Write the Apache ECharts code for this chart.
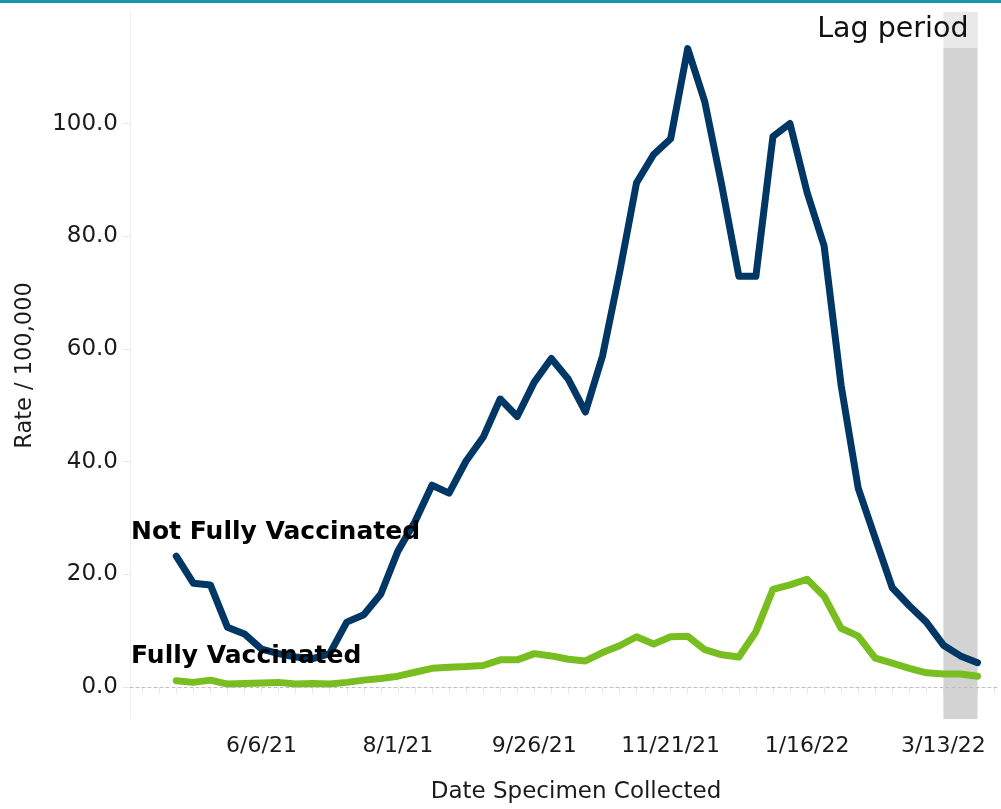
<!DOCTYPE html>
<html>
<head>
<meta charset="utf-8">
<script src="https://cdn.jsdelivr.net/npm/echarts@6/dist/echarts.min.js"></script>
<style>
  html, body { margin: 0; padding: 0; background: #ffffff; }
  #chart { width: 1001px; height: 809px; }
</style>
</head>
<body>
<div id="chart"></div>
<script>
// Weekly specimen collection dates (week start)
var weeks = [
  '2021-05-02', '2021-05-09', '2021-05-16', '2021-05-23', '2021-05-30',
  '2021-06-06', '2021-06-13', '2021-06-20', '2021-06-27', '2021-07-04',
  '2021-07-11', '2021-07-18', '2021-07-25', '2021-08-01', '2021-08-08',
  '2021-08-15', '2021-08-22', '2021-08-29', '2021-09-05', '2021-09-12',
  '2021-09-19', '2021-09-26', '2021-10-03', '2021-10-10', '2021-10-17',
  '2021-10-24', '2021-10-31', '2021-11-07', '2021-11-14', '2021-11-21',
  '2021-11-28', '2021-12-05', '2021-12-12', '2021-12-19', '2021-12-26',
  '2022-01-02', '2022-01-09', '2022-01-16', '2022-01-23', '2022-01-30',
  '2022-02-06', '2022-02-13', '2022-02-20', '2022-02-27', '2022-03-06',
  '2022-03-13', '2022-03-20', '2022-03-27'
];

// Case rate per 100,000 — not fully vaccinated
var notFullyVaccinated = [
  23.2, 18.4, 18.1, 10.6, 9.4, 6.7, 5.9, 5.3, 5.0, 5.9,
  11.5, 12.8, 16.5, 24.1, 29.3, 35.8, 34.4, 40.1, 44.3, 51.1,
  48.0, 54.1, 58.3, 54.6, 48.8, 58.7, 73.5, 89.5, 94.5, 97.3,
  113.3, 103.9, 89.0, 72.9, 72.9, 97.7, 100.0, 87.8, 78.3, 53.5,
  35.3, 26.4, 17.6, 14.4, 11.5, 7.4, 5.5, 4.3
];

// Case rate per 100,000 — fully vaccinated
var fullyVaccinated = [
  1.1, 0.8, 1.2, 0.5, 0.6, 0.7, 0.8, 0.5, 0.6, 0.5,
  0.8, 1.2, 1.5, 1.9, 2.6, 3.3, 3.5, 3.6, 3.8, 4.8,
  4.8, 5.9, 5.5, 4.9, 4.6, 6.1, 7.3, 8.9, 7.6, 8.9,
  9.0, 6.6, 5.7, 5.3, 9.8, 17.3, 18.1, 19.1, 16.1, 10.4,
  9.0, 5.1, 4.2, 3.3, 2.5, 2.3, 2.3, 1.9
];

// Labelled dates on the x axis and y axis tick values
var xTickLabels = ['6/6/21', '8/1/21', '9/26/21', '11/21/21', '1/16/22', '3/13/22'];
var yTickValues = [0, 20, 40, 60, 80, 100];

// Reporting lag window and visible date range
var lagPeriod = ['2022-03-13', '2022-03-27'];
var xRange = ['2021-04-13', '2022-04-04'];
var firstWeekTick = '2021-04-18';
var lastWeekTick = '2022-04-03';

// Dates are placed on a linear axis in days since 1 Jan 2021
var DAY = 86400000;
var EPOCH = Date.UTC(2021, 0, 1);
function isoToDay(s) {
  var p = s.split('-');
  return Math.round((Date.UTC(+p[0], +p[1] - 1, +p[2]) - EPOCH) / DAY);
}
function mdyToDay(s) {
  var p = s.split('/');
  return Math.round((Date.UTC(2000 + +p[2], +p[0] - 1, +p[1]) - EPOCH) / DAY);
}
function fmtDay(v) {
  var d = new Date(EPOCH + Math.round(v) * DAY);
  return (d.getUTCMonth() + 1) + '/' + d.getUTCDate() + '/' + String(d.getUTCFullYear()).slice(2);
}

var labelDays = xTickLabels.map(mdyToDay);
var weekTicks = [];
for (var t = isoToDay(firstWeekTick); t <= isoToDay(lastWeekTick); t += 7) {
  weekTicks.push(t);
}

var FONT = '"DejaVu Sans", Verdana, sans-serif';
var TEXT = '#1a1a1a';

var chart = echarts.init(document.getElementById('chart'), null, { renderer: 'canvas' });

chart.setOption({
  animation: false,
  backgroundColor: '#ffffff',
  grid: { left: 130, right: 4, top: 12, bottom: 89, containLabel: false },
  xAxis: {
    type: 'value',
    min: isoToDay(xRange[0]),
    max: isoToDay(xRange[1]),
    name: 'Date Specimen Collected',
    nameLocation: 'middle',
    nameGap: 62,
    nameTextStyle: { fontFamily: FONT, fontSize: 23, color: TEXT, padding: [0, 0, 0, 25] },
    axisLine: { show: true, lineStyle: { color: '#efefef', width: 1 } },
    axisTick: { show: true, customValues: weekTicks, length: 7, lineStyle: { color: '#e6e6e6' } },
    axisLabel: {
      customValues: labelDays,
      formatter: function (v) { return fmtDay(v); },
      margin: 16,
      fontFamily: FONT, fontSize: 22, color: TEXT
    },
    splitLine: { show: false }
  },
  yAxis: {
    type: 'value',
    min: -5.7,
    max: 119.8,
    name: 'Rate / 100,000',
    nameLocation: 'middle',
    nameGap: 93,
    nameTextStyle: { fontFamily: FONT, fontSize: 22.5, color: TEXT },
    axisLine: { show: true, lineStyle: { color: '#efefef', width: 1 } },
    axisTick: { show: true, customValues: yTickValues, length: 7, lineStyle: { color: '#e6e6e6' } },
    axisLabel: {
      customValues: yTickValues,
      formatter: function (v) { return v.toFixed(1); },
      margin: 12,
      padding: [4, 0, 0, 0],
      fontFamily: FONT, fontSize: 23, color: TEXT
    },
    splitLine: { show: false }
  },
  series: [
    {
      name: 'Fully Vaccinated',
      type: 'line',
      data: weeks.map(function (w, i) { return [isoToDay(w), fullyVaccinated[i]]; }),
      showSymbol: false,
      lineStyle: { color: '#78be21', width: 7, cap: 'round', join: 'round' },
      z: 3,
      markArea: {
        silent: true,
        itemStyle: { color: '#d3d3d3' },
        label: {
          show: true,
          position: 'insideTopRight',
          distance: 0,
          formatter: 'Lag period',
          fontFamily: FONT,
          fontSize: 28.5,
          lineHeight: 30,
          color: '#111',
          backgroundColor: 'rgba(255,255,255,0.5)',
          padding: [3, 9, 3, 6]
        },
        data: [[{ xAxis: isoToDay(lagPeriod[0]) }, { xAxis: isoToDay(lagPeriod[1]) }]]
      },
      markLine: {
        silent: true,
        symbol: 'none',
        label: { show: false },
        lineStyle: { color: '#bdbdbd', width: 1, type: [3, 3] },
        data: [{ yAxis: 0 }]
      }
    },
    {
      name: 'Not Fully Vaccinated',
      type: 'line',
      data: weeks.map(function (w, i) { return [isoToDay(w), notFullyVaccinated[i]]; }),
      showSymbol: false,
      lineStyle: { color: '#003764', width: 7, cap: 'round', join: 'round' },
      z: 4
    }
  ],
  graphic: [
    {
      type: 'rect',
      shape: { x: 0, y: 0, width: 1001, height: 3 },
      style: { fill: '#1a94ae' },
      z: 100
    },
    {
      type: 'text',
      left: 131,
      top: 520,
      z: 100,
      style: { text: 'Not Fully Vaccinated', font: 'bold 25px ' + FONT, fill: '#000' }
    },
    {
      type: 'text',
      left: 131,
      top: 644,
      z: 100,
      style: { text: 'Fully Vaccinated', font: 'bold 25px ' + FONT, fill: '#000' }
    }
  ]
});
</script>
</body>
</html>
